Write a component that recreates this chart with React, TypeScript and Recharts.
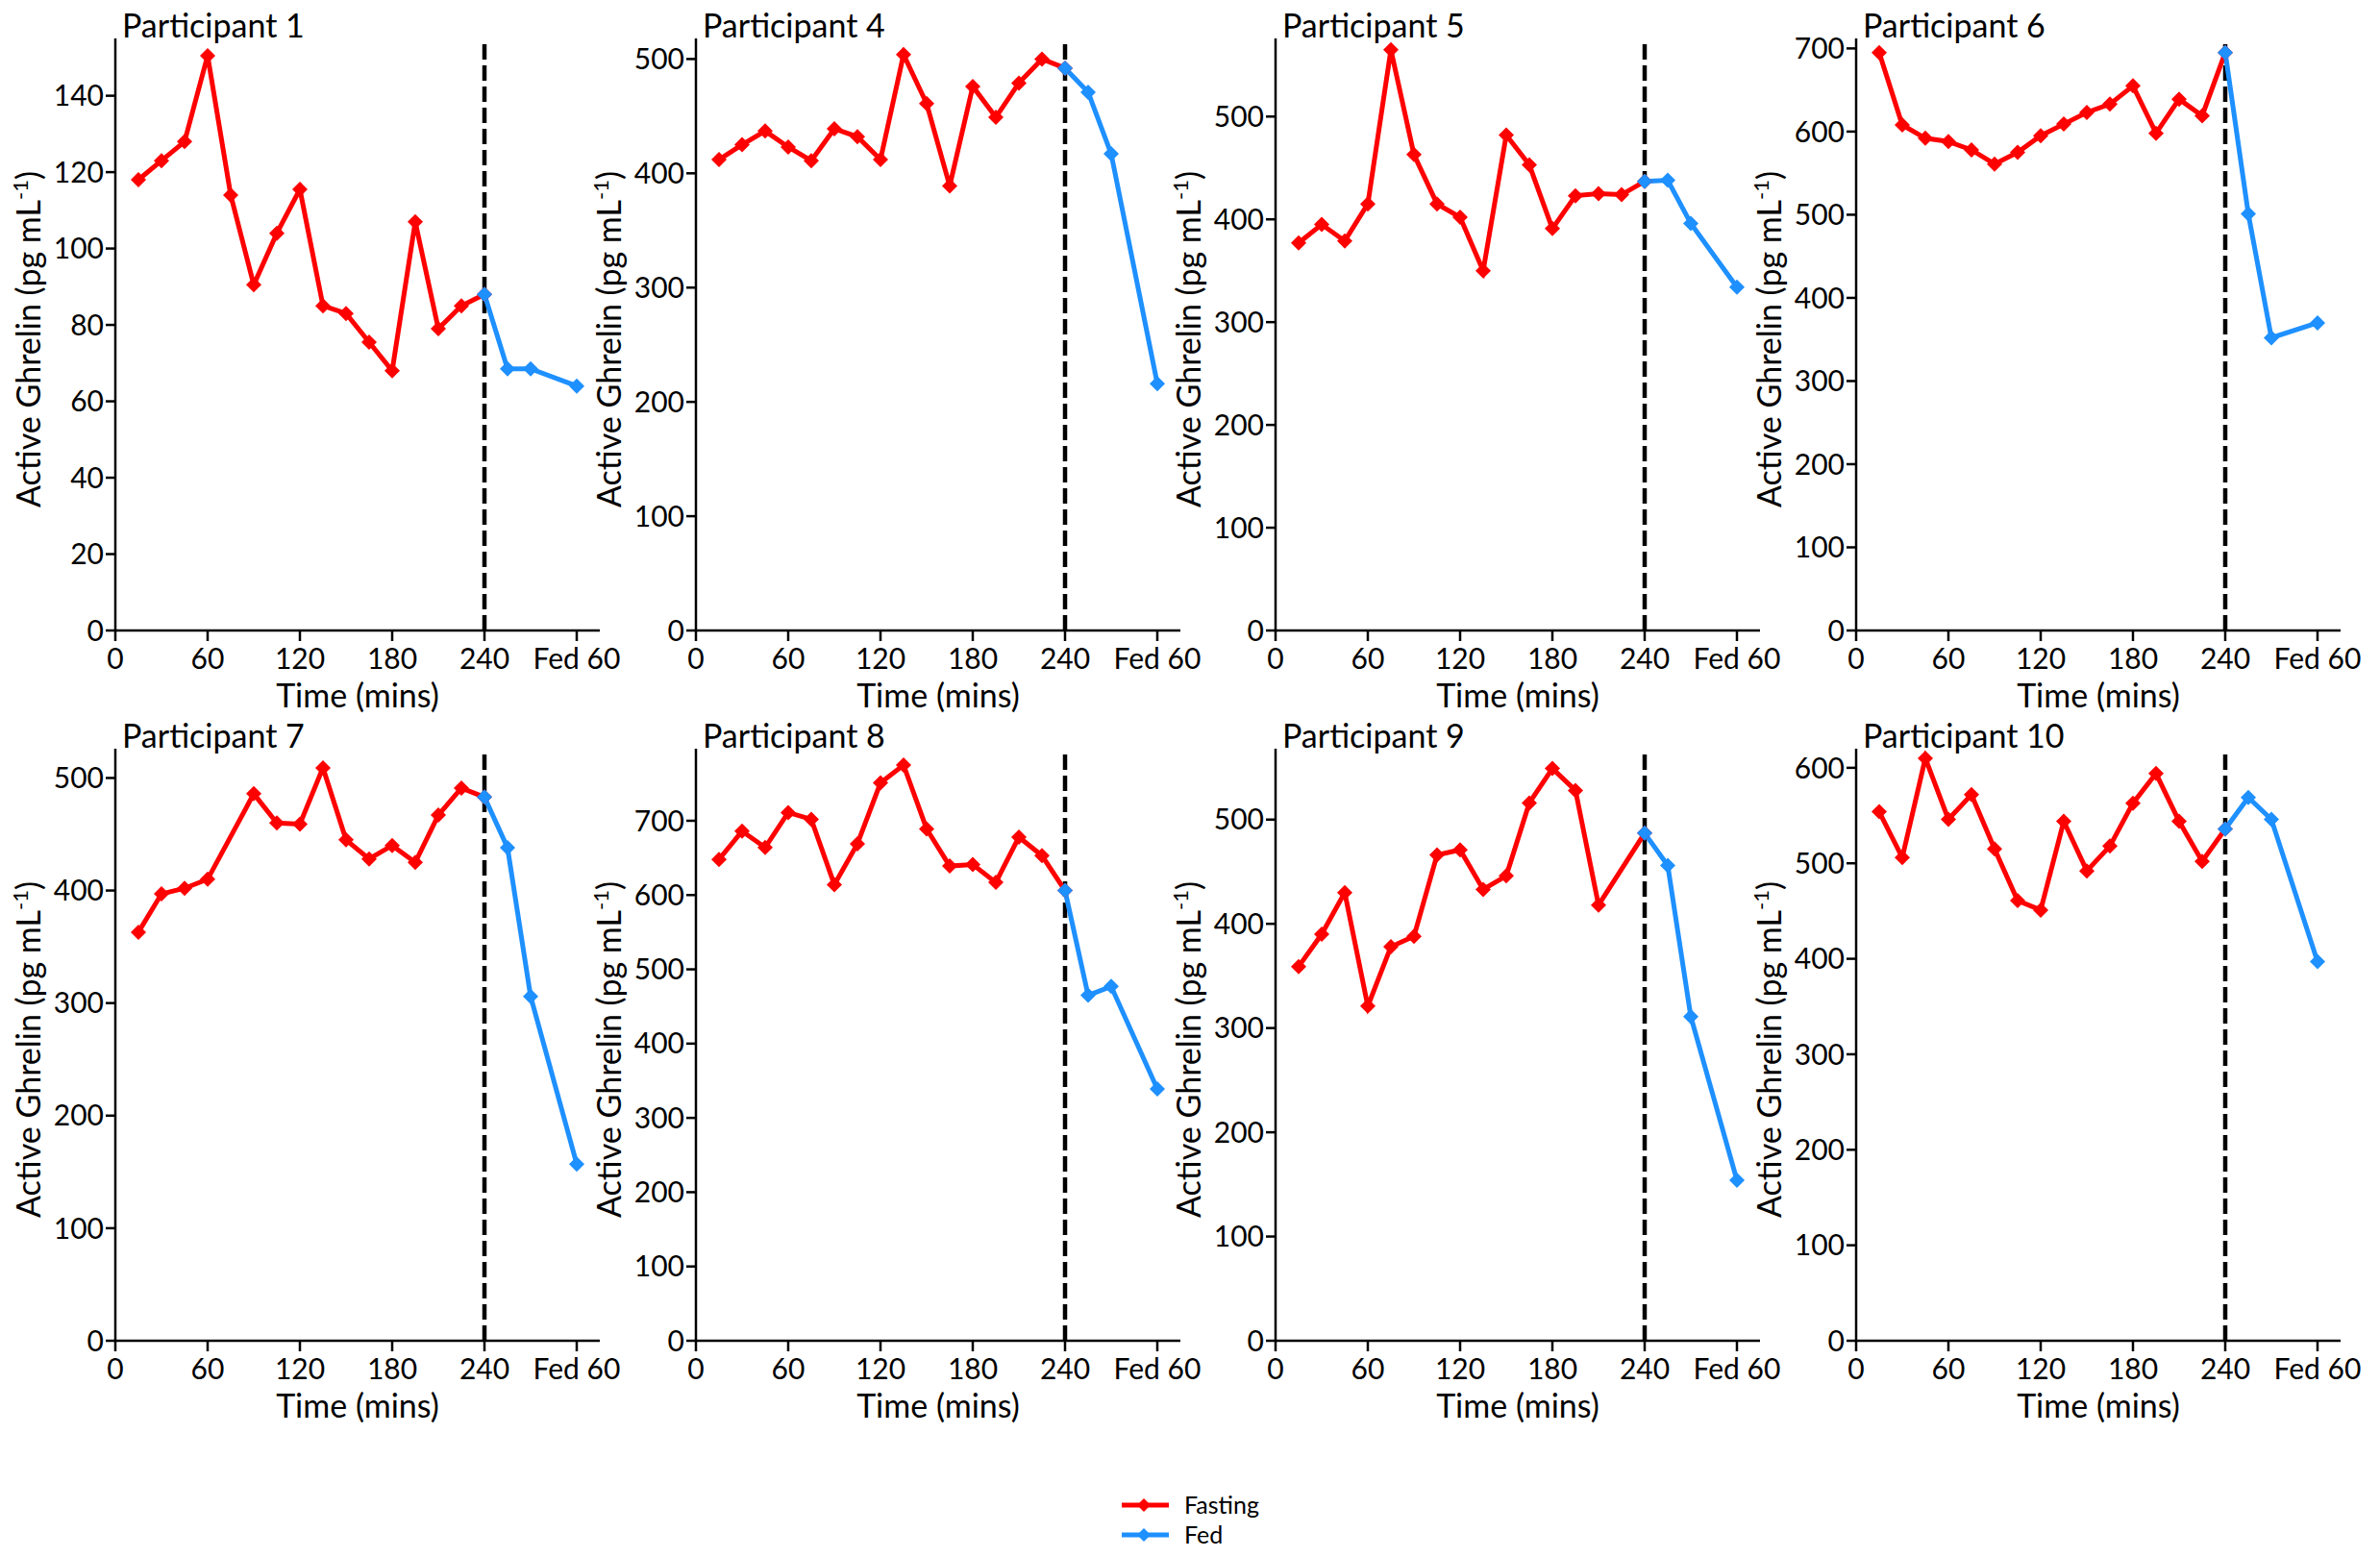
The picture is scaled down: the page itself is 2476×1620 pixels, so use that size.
import React from 'react';
import { LineChart, Line, XAxis, YAxis, ReferenceLine } from 'recharts';

// sampling times (mins); 300 is drawn as "Fed 60"
const fastTimes = [15, 30, 45, 60, 75, 90, 105, 120, 135, 150, 165, 180, 195, 210, 225, 240];
const fedTimes = [240, 255, 270, 300];
const xTicks = [0, 60, 120, 180, 240, 300];

const p1Fasting = [118, 123, 128, 150.5, 114, 90.5, 104, 115.5, 85, 83, 75.5, 68, 107, 79, 85, 88];
const p1Fed = [88, 68.5, 68.5, 64];
const p4Fasting = [412, 425, 437, 423, 411, 439, 432, 412, 504, 461, 389, 476, 449, 479, 500, 492];
const p4Fed = [492, 471, 417, 216];
const p5Fasting = [377, 395, 379, 415, 565, 463, 415, 402, 350, 482, 453, 391, 423, 425, 424, 437];
const p5Fed = [437, 438, 396, 334];
const p6Fasting = [695, 608, 592, 588, 578, 561, 575, 595, 609, 623, 633, 655, 598, 639, 619, 695];
const p6Fed = [695, 501, 352, 370];
const p7Fasting = [363, 397, 402, 410, null, 486, 460, 459, 509, 445, 428, 440, 425, 467, 491, 483];
const p7Fed = [483, 438, 306, 157];
const p8Fasting = [648, 686, 664, 711, 702, 614, 669, 751, 775, 689, 639, 641, 617, 678, 653, 606];
const p8Fed = [606, 465, 477, 339];
const p9Fasting = [359, 390, 430, 321, 378, 388, 466, 471, 433, 446, 516, 549, 528, 418, null, 487];
const p9Fed = [487, 456, 311, 154];
const p10Fasting = [554, 506, 610, 546, 572, 515, 461, 451, 544, 492, 518, 563, 594, 544, 502, 536];
const p10Fed = [536, 569, 546, 397];

const ticks140 = [0, 20, 40, 60, 80, 100, 120, 140];
const ticks500 = [0, 100, 200, 300, 400, 500];
const ticks600 = [0, 100, 200, 300, 400, 500, 600];
const ticks700 = [0, 100, 200, 300, 400, 500, 600, 700];

const RED = '#FF0000';
const BLUE = '#1E90FF';
const FONT = 'Lato, "Open Sans", sans-serif';

const panels = [
  { name: 'Participant 1', fasting: p1Fasting, fed: p1Fed, yMax: 155, yTicks: ticks140 },
  { name: 'Participant 4', fasting: p4Fasting, fed: p4Fed, yMax: 518, yTicks: ticks500 },
  { name: 'Participant 5', fasting: p5Fasting, fed: p5Fed, yMax: 576, yTicks: ticks500 },
  { name: 'Participant 6', fasting: p6Fasting, fed: p6Fed, yMax: 712, yTicks: ticks700 },
  { name: 'Participant 7', fasting: p7Fasting, fed: p7Fed, yMax: 526, yTicks: ticks500 },
  { name: 'Participant 8', fasting: p8Fasting, fed: p8Fed, yMax: 797, yTicks: ticks700 },
  { name: 'Participant 9', fasting: p9Fasting, fed: p9Fed, yMax: 568, yTicks: ticks500 },
  { name: 'Participant 10', fasting: p10Fasting, fed: p10Fed, yMax: 620, yTicks: ticks600 },
];

const colLeft = [0, 604, 1207, 1811];
const rowTop = [0, 739];

const diamond = (color: string) => (props: any) => {
  const { cx, cy, index } = props;
  if (cx == null || cy == null || props.value == null) return <g key={index} />;
  const r = 8;
  return (
    <polygon
      key={index}
      points={`${cx},${cy - r} ${cx + r},${cy} ${cx},${cy + r} ${cx - r},${cy}`}
      fill={color}
    />
  );
};

function YLabel(props: any) {
  const vb = props.viewBox || { x: 0, y: 40, width: 120, height: 616 };
  const x = vb.x + 42;
  const y = vb.y + vb.height / 2 + 5;
  return (
    <text
      x={x}
      y={y}
      transform={`rotate(-90, ${x}, ${y})`}
      textAnchor="middle"
      fontFamily={FONT}
      fontSize={34}
      fill="#000"
    >
      <tspan>Active Ghrelin (pg mL</tspan>
      <tspan dy={-13} fontSize={22}>-1</tspan>
      <tspan dy={13}>)</tspan>
    </text>
  );
}

function XLabel(props: any) {
  const vb = props.viewBox || { x: 120, y: 656, width: 504, height: 84 };
  return (
    <text
      x={vb.x + vb.width / 2}
      y={vb.y + 80}
      textAnchor="middle"
      fontFamily={FONT}
      fontSize={34}
      fill="#000"
    >
      Time (mins)
    </text>
  );
}

function Panel({ p, left, top }: { p: (typeof panels)[number]; left: number; top: number }) {
  const fastData = p.fasting.map((v, i) => ({ t: fastTimes[i], v }));
  const fedData = p.fed.map((v, i) => ({ t: fedTimes[i], v }));
  const tickStyle = { fontFamily: FONT, fontSize: 30, fill: '#000' };

  return (
    <div style={{ position: 'absolute', left, top, width: 670, height: 760 }}>
      <LineChart width={670} height={760} margin={{ top: 40, right: 46, left: 0, bottom: 20 }}>
        <XAxis
          type="number"
          dataKey="t"
          domain={[0, 315]}
          ticks={xTicks}
          interval={0}
          allowDataOverflow
          tickFormatter={(v) => (v === 300 ? 'Fed 60' : String(v))}
          tick={tickStyle}
          tickSize={11}
          tickMargin={8}
          height={84}
          axisLine={{ stroke: '#000', strokeWidth: 2.5 }}
          tickLine={{ stroke: '#000', strokeWidth: 2.5 }}
          label={XLabel}
        />
        <YAxis
          type="number"
          domain={[0, p.yMax]}
          ticks={p.yTicks}
          interval={0}
          allowDataOverflow
          width={120}
          tick={tickStyle}
          tickSize={10}
          tickMargin={2}
          axisLine={{ stroke: '#000', strokeWidth: 2.5 }}
          tickLine={{ stroke: '#000', strokeWidth: 2.5 }}
          label={YLabel}
        />
        <ReferenceLine x={240} stroke="#000" strokeWidth={4.5} strokeDasharray="16 6" />
        <Line
          data={fastData}
          dataKey="v"
          type="linear"
          stroke={RED}
          strokeWidth={5}
          connectNulls
          dot={diamond(RED)}
          activeDot={false}
          isAnimationActive={false}
        />
        <Line
          data={fedData}
          dataKey="v"
          type="linear"
          stroke={BLUE}
          strokeWidth={5}
          dot={diamond(BLUE)}
          activeDot={false}
          isAnimationActive={false}
        />
      </LineChart>
      <div
        style={{
          position: 'absolute',
          left: 127,
          top: 9,
          fontFamily: FONT,
          fontSize: 34,
          lineHeight: 1,
          whiteSpace: 'nowrap',
          color: '#000',
        }}
      >
        {p.name}
      </div>
    </div>
  );
}

function LegendBox() {
  const items = [
    { label: 'Fasting', color: RED, y: 28 },
    { label: 'Fed', color: BLUE, y: 59 },
  ];
  return (
    <svg
      width={240}
      height={90}
      style={{ position: 'absolute', left: 1150, top: 1538 }}
    >
      {items.map((it) => (
        <g key={it.label}>
          <line x1={17} x2={66} y1={it.y} y2={it.y} stroke={it.color} strokeWidth={5} />
          <polygon
            points={`40,${it.y - 7} 47,${it.y} 40,${it.y + 7} 33,${it.y}`}
            fill={it.color}
          />
          <text x={82} y={it.y + 9} fontFamily={FONT} fontSize={25} fill="#000">
            {it.label}
          </text>
        </g>
      ))}
    </svg>
  );
}

export default function App() {
  return (
    <div
      style={{
        position: 'absolute',
        left: 0,
        top: 0,
        width: 2476,
        height: 1620,
        background: '#fff',
        overflow: 'hidden',
      }}
    >
      {panels.map((p, i) => (
        <Panel key={p.name} p={p} left={colLeft[i % 4]} top={rowTop[Math.floor(i / 4)]} />
      ))}
      <LegendBox />
    </div>
  );
}
